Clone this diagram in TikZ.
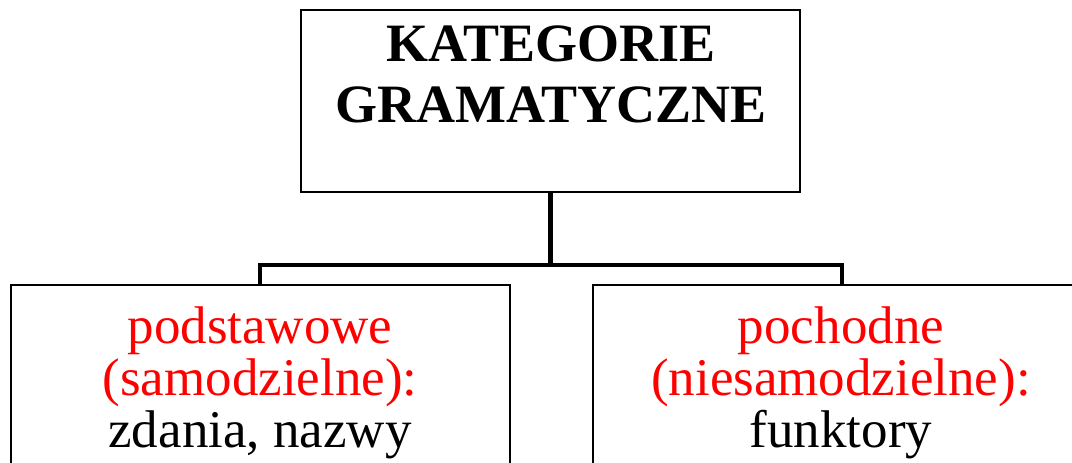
\documentclass[tikz,border=0pt]{standalone}
\usepackage{fontspec}
\setmainfont{Liberation Serif}
\begin{document}
\begin{tikzpicture}[x=1pt,y=-1pt,
  boxst/.style={draw=black,line width=2pt,minimum width=499pt,inner sep=0pt,outer sep=0pt},
  conn/.style={draw=black,line width=4.5pt},
  titlest/.style={font=\fontsize{54}{61}\selectfont\bfseries,align=center,inner sep=0pt,anchor=base},
  subst/.style={font=\fontsize{53}{52}\selectfont,align=center,inner sep=0pt,anchor=base}]
\useasboundingbox (0,0) rectangle (1072,463);
\node[boxst,minimum height=182pt,anchor=north] (top) at (550.5,10) {};
\node[boxst,minimum height=220pt,anchor=north] (lb) at (260,285) {};
\node[boxst,minimum height=220pt,anchor=north] (rb) at (842,285) {};
\coordinate (j) at (550.5,265);
\draw[conn] (top.south) -- (j);
\draw[conn] (lb.north) |- (j) -| (rb.north);
\node[titlest] (tt) at (551,122) {KATEGORIE\\GRAMATYCZNE};
\node[subst] (lt) at (260,447) {\textcolor{red}{podstawowe}\\\textcolor{red}{(samodzielne):}\\zdania, nazwy};
\node[subst] (rt) at (841,447) {\textcolor{red}{pochodne}\\\textcolor{red}{(niesamodzielne):}\\funktory};
\end{tikzpicture}
\end{document}
